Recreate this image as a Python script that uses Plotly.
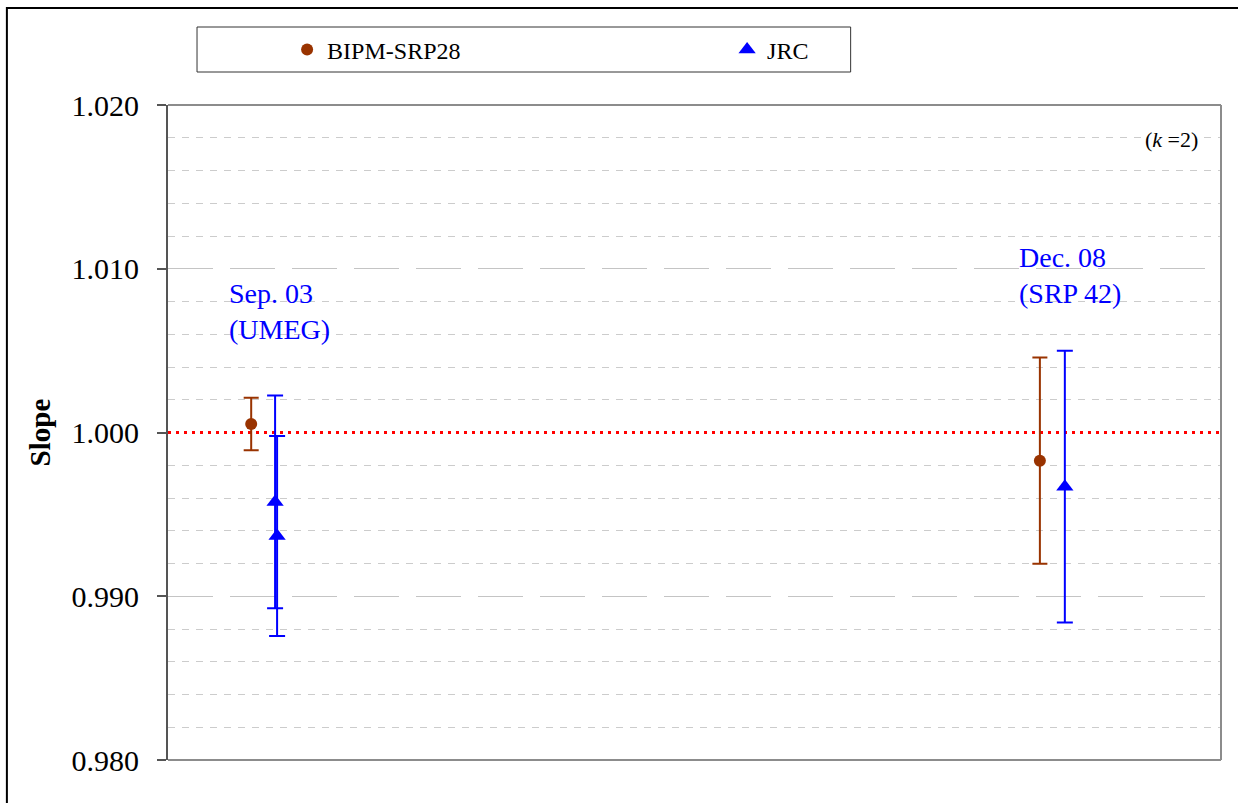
import plotly.graph_objects as go

# ---- data ----
bipm_x = [0.79, 8.28]
bipm_y = [1.00052, 0.99828]
bipm_err = [0.0016, 0.0063]

jrc_x = [1.017, 1.036, 8.517]
jrc_y = [0.99576, 0.99368, 0.99669]
jrc_err = [0.0065, 0.0061, 0.0083]

ref_value = 1.000
x_range = [0, 10]

FONT = "Liberation Serif"
BROWN = "#993300"
BLUE = "#0000FF"

fig = go.Figure()

# reference line at 1.000 (white backing hides grid, red dots on top)
fig.add_trace(go.Scatter(x=x_range, y=[ref_value, ref_value], mode="lines",
                         line=dict(color="white", width=3), showlegend=False, hoverinfo="skip"))
fig.add_trace(go.Scatter(x=x_range, y=[ref_value, ref_value], mode="lines",
                         line=dict(color="#FF0000", width=3, dash="3px,5px"),
                         showlegend=False, hoverinfo="skip"))

fig.add_trace(go.Scatter(
    x=bipm_x, y=bipm_y, mode="markers", name="BIPM-SRP28",
    marker=dict(symbol="circle", size=12, color=BROWN),
    error_y=dict(type="data", array=bipm_err, visible=True, color=BROWN,
                 thickness=2, width=7.5),
))
fig.add_trace(go.Scatter(
    x=jrc_x, y=jrc_y, mode="markers", name="JRC",
    marker=dict(symbol="triangle-up", size=15, color=BLUE),
    error_y=dict(type="data", array=jrc_err, visible=True, color=BLUE,
                 thickness=2, width=8),
))

# plot-area right/top/bottom border (grey)
fig.add_shape(type="line", xref="paper", yref="paper", x0=1, x1=1, y0=0, y1=1,
              line=dict(color="#8c8c8c", width=2))
fig.add_shape(type="line", xref="paper", yref="paper", x0=0, x1=1, y0=1, y1=1,
              line=dict(color="#8c8c8c", width=2))
fig.add_shape(type="line", xref="paper", yref="paper", x0=0, x1=1, y0=0, y1=0,
              line=dict(color="#8c8c8c", width=2))

# outer chart frame
fig.add_shape(type="rect", xref="paper", yref="paper", x0=-0.153, x1=1.03, y0=-0.08, y1=1.148,
              line=dict(color="black", width=2), fillcolor="rgba(0,0,0,0)")

# legend box
fig.add_shape(type="rect", xref="paper", yref="paper",
              x0=(197-168)/1052, x1=(850-168)/1052,
              y0=1 + (105-72)/655, y1=1 + (105-27)/655,
              line=dict(color="#333333", width=1), fillcolor="rgba(0,0,0,0)")

fig.add_annotation(text="Sep. 03<br>(UMEG)", xref="paper", yref="paper",
                   x=(227-168)/1052, y=(760-311)/655, xanchor="left", yanchor="middle",
                   align="left", showarrow=False, font=dict(family=FONT, size=28, color=BLUE))
fig.add_annotation(text="Dec. 08<br>(SRP 42)", xref="paper", yref="paper",
                   x=(1016-168)/1052, y=(760-275)/655, xanchor="left", yanchor="middle",
                   align="left", showarrow=False, font=dict(family=FONT, size=28, color=BLUE))
fig.add_annotation(text="(<i>k</i> =2)", xref="paper", yref="paper",
                   x=(1199-168)/1052, y=(760-139)/655, xanchor="right", yanchor="middle",
                   showarrow=False, bgcolor="white", font=dict(family=FONT, size=22, color="black"))
fig.add_annotation(text="<b>Slope</b>", xref="paper", yref="paper",
                   x=(40-168)/1052, y=0.5, xanchor="center", yanchor="middle", textangle=-90,
                   showarrow=False, font=dict(family=FONT, size=29, color="black"))

fig.update_layout(
    width=1238, height=803,
    margin=dict(l=168, r=17, t=105, b=43),
    paper_bgcolor="white", plot_bgcolor="white",
    showlegend=True,
    legend=dict(orientation="h", x=(287-168)/1052, xanchor="left",
                y=1 + (105-50)/655, yanchor="middle",
                bgcolor="rgba(0,0,0,0)", borderwidth=0,
                entrywidth=395, entrywidthmode="pixels",
                font=dict(family=FONT, size=24, color="black")),
    xaxis=dict(range=x_range, showgrid=False, zeroline=False, showticklabels=False,
               ticks="", showline=False),
    yaxis=dict(range=[0.98, 1.02], dtick=0.01, tick0=0.98, tickformat=".3f",
               showgrid=True, gridcolor="#c4c4c4", gridwidth=1.3, griddash="45px,17px",
               minor=dict(dtick=0.002, showgrid=True, gridcolor="#cccccc", gridwidth=1,
                          griddash="7px,7px", ticks=""),
               zeroline=False, showline=True, linecolor="#555555", linewidth=2,
               ticks="outside", ticklen=9, tickcolor="#555555", tickwidth=1.5,
               ticklabelstandoff=12,
               tickfont=dict(family=FONT, size=30, color="black")),
)

fig.write_html("out.html", config={"displayModeBar": False},
               post_script="document.body.style.margin='0';document.body.style.padding='0';")
